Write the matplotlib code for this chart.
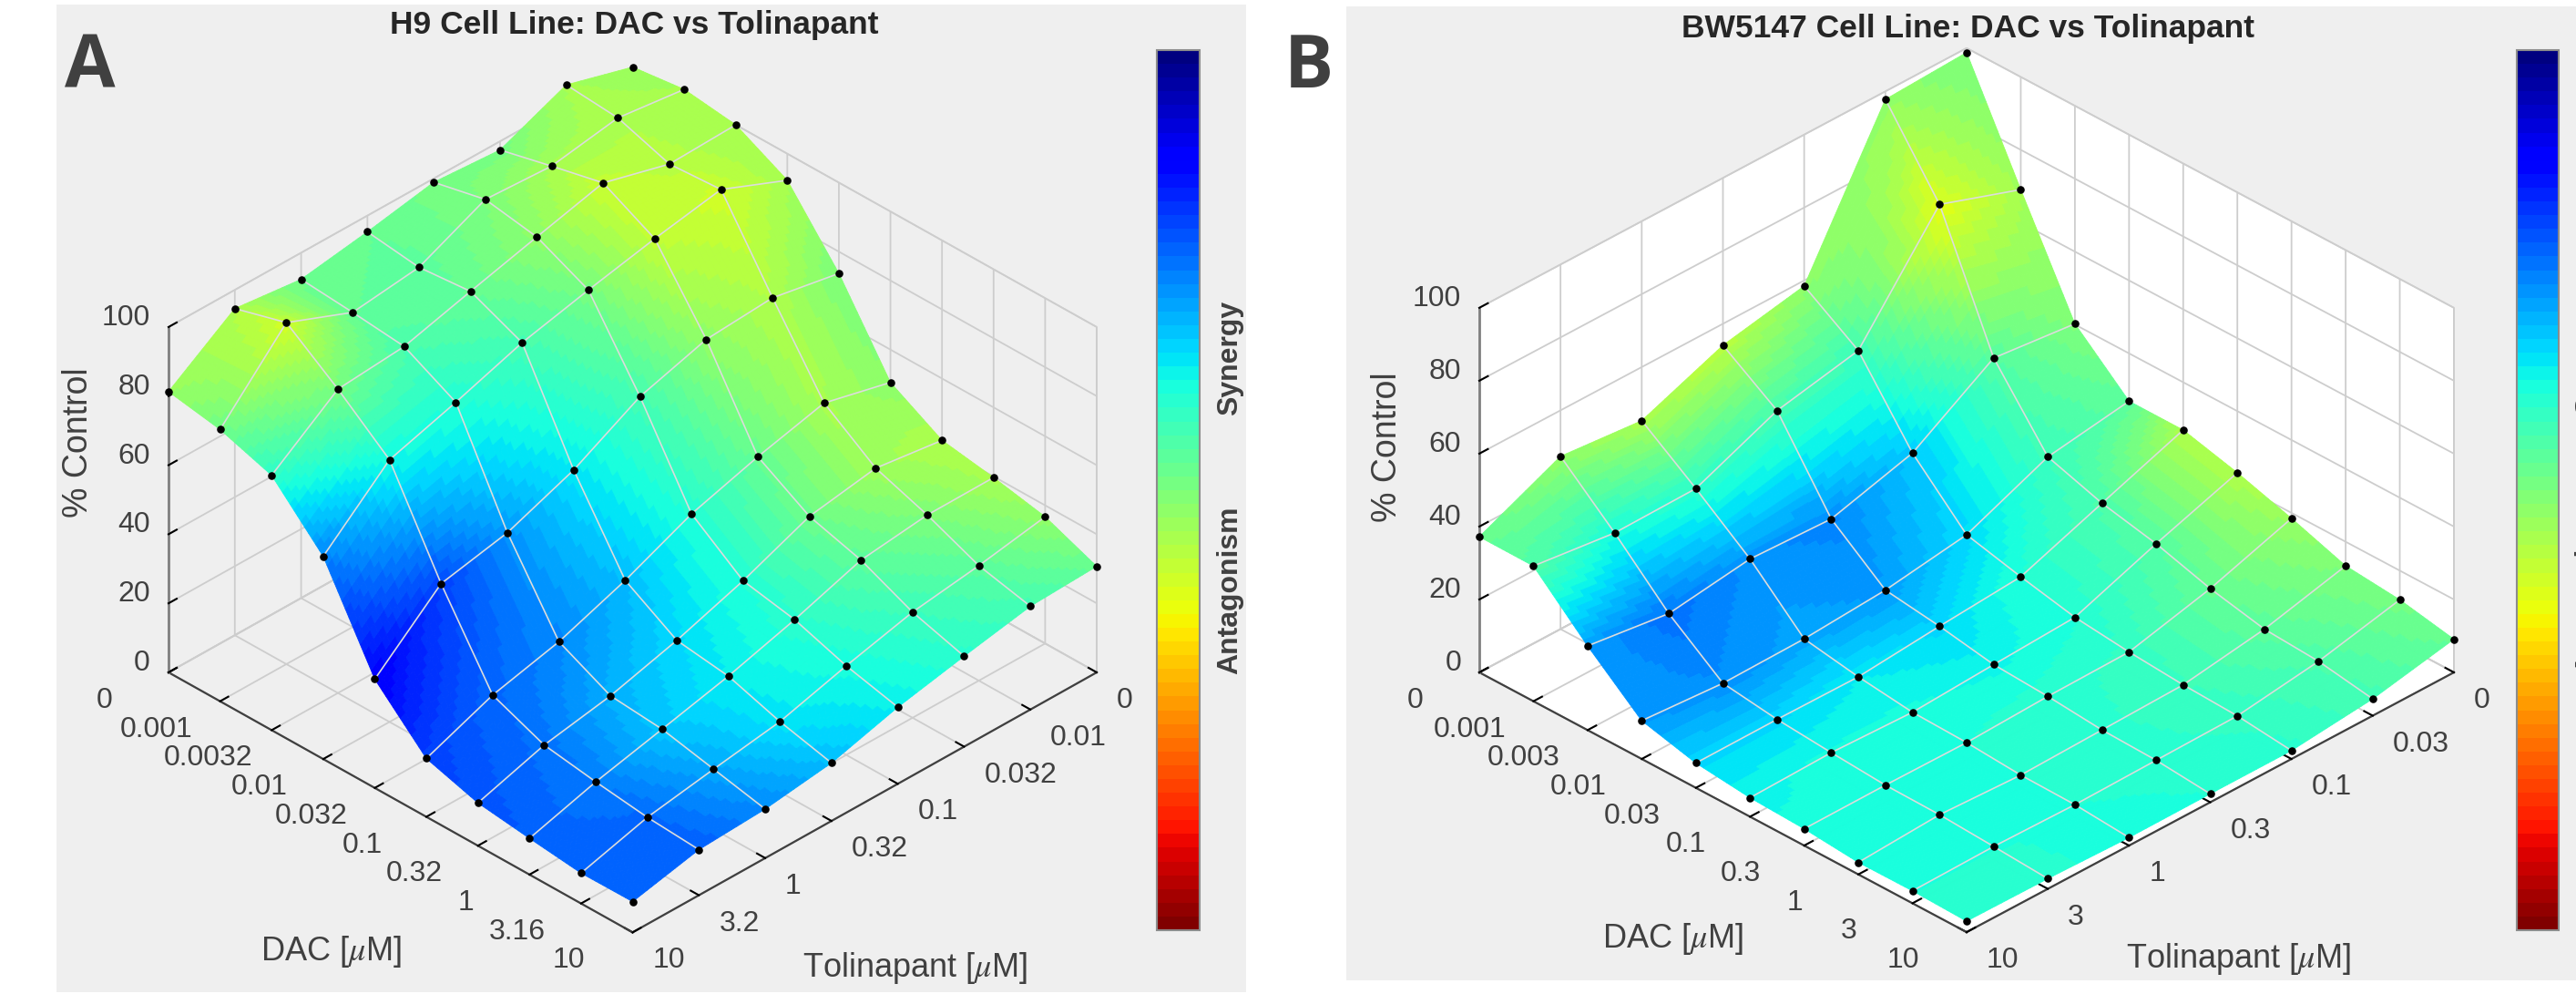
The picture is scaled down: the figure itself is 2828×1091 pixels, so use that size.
import numpy as np
import matplotlib
matplotlib.use("Agg")
import matplotlib.pyplot as plt
from matplotlib.cm import ScalarMappable
from matplotlib.colors import Normalize
from matplotlib.patches import Rectangle
from matplotlib.transforms import ScaledTranslation
from mpl_toolkits.mplot3d import proj3d

plt.rcParams['font.family'] = ['Liberation Sans', 'DejaVu Sans']
plt.rcParams['mathtext.fontset'] = 'stix'

# Tick labels
a_dac_labels = ['0', '0.001', '0.0032', '0.01', '0.032', '0.1', '0.32', '1', '3.16', '10']
a_tol_labels = ['0', '0.01', '0.032', '0.1', '0.32', '1', '3.2', '10']
b_dac_labels = ['0', '0.001', '0.003', '0.01', '0.03', '0.1', '0.3', '1', '3', '10']
b_tol_labels = ['0', '0.03', '0.1', '0.3', '1', '3', '10']
z_ticks = [0, 20, 40, 60, 80, 100]

# % control, one row per tolinapant level, one column per DAC level
a_z = [
    [100.0, 101.9, 100.0, 92.3, 73.7, 50.5, 42.1, 39.7, 36.7, 30.7],
    [105.6, 104.4, 99.4, 100.4, 77.4, 55.3, 44.8, 39.6, 33.3, 29.9],
    [97.5, 101.2, 104.7, 96.9, 76.1, 50.5, 41.6, 37.3, 30.6, 26.2],
    [98.9, 102.3, 99.8, 92.8, 70.3, 44.7, 33.7, 30.8, 25.8, 22.2],
    [95.3, 93.4, 94.8, 88.3, 59.8, 36.2, 27.2, 25.2, 20.4, 16.8],
    [92.3, 91.1, 89.6, 81.8, 52.4, 29.2, 21.9, 20.6, 17.4, 14.2],
    [94.6, 98.9, 88.0, 75.9, 48.4, 24.5, 18.4, 16.1, 14.2, 13.2],
    [81.3, 78.7, 73.8, 58.7, 31.5, 16.9, 12.4, 10.5, 8.8, 8.9],
]
b_z = [
    [98.8, 69.1, 40.2, 26.9, 26.9, 23.1, 18.5, 13.4, 12.0, 9.1],
    [97.8, 76.9, 42.7, 23.5, 18.7, 15.5, 11.1, 7.9, 7.0, 4.6],
    [58.5, 48.7, 28.5, 14.0, 10.4, 7.2, 5.6, 4.5, 3.9, 2.3],
    [54.1, 44.1, 22.3, 10.7, 8.7, 6.1, 5.3, 4.0, 3.6, 2.3],
    [45.3, 34.6, 23.2, 9.2, 6.7, 4.9, 4.5, 3.5, 3.3, 2.2],
    [47.4, 34.3, 20.1, 8.9, 6.9, 5.7, 4.7, 4.5, 3.7, 2.8],
    [37.2, 37.1, 23.1, 10.5, 6.8, 5.2, 4.6, 3.3, 3.4, 3.0],
]
# Interaction colour (0 = strongest synergy, 1 = strongest antagonism)
a_c = [
    [.53, .55, .55, .55, .50, .52, .56, .55, .52, .47],
    [.55, .56, .57, .60, .56, .55, .54, .50, .46, .43],
    [.49, .55, .59, .58, .52, .47, .48, .46, .42, .40],
    [.49, .50, .52, .49, .43, .39, .39, .40, .38, .36],
    [.47, .46, .47, .43, .35, .31, .34, .36, .35, .31],
    [.48, .47, .44, .39, .27, .26, .30, .32, .29, .26],
    [.56, .60, .49, .37, .19, .23, .24, .25, .23, .22],
    [.53, .48, .40, .25, .12, .19, .21, .22, .22, .22],
]
b_c = [
    [.50, .55, .50, .46, .56, .56, .53, .50, .49, .47],
    [.53, .62, .45, .42, .44, .45, .47, .46, .44, .43],
    [.52, .42, .32, .34, .39, .39, .41, .42, .41, .40],
    [.57, .43, .26, .28, .34, .37, .40, .40, .40, .39],
    [.55, .40, .27, .29, .36, .38, .39, .39, .39, .375],
    [.52, .38, .24, .27, .34, .38, .38, .38, .39, .40],
    [.47, .45, .28, .28, .34, .37, .38, .38, .39, .40],
]

W, H = 2828, 1091
fig = plt.figure(figsize=(W / 100, H / 100), dpi=100, facecolor='white')
GRAY = '#efefef'
DARK = '#404040'
cmap = plt.get_cmap('jet', 64)
norm = Normalize(0, 1)


def fx(px):
    return px / W


def fy(py):
    return 1 - py / H


def fig_rect(x0, y0, x1, y1):
    fig.patches.append(Rectangle((fx(x0), fy(y1)), (x1 - x0) / W, (y1 - y0) / H,
                                 transform=fig.transFigure, facecolor=GRAY,
                                 edgecolor='none', zorder=-5))


def refine(arr, n):
    """Fine mesh for smooth colour shading across each grid cell."""
    arr = np.asarray(arr, float)
    r, c = arr.shape
    ri = np.linspace(0, r - 1, (r - 1) * n + 1)
    ci = np.linspace(0, c - 1, (c - 1) * n + 1)
    r0 = np.minimum(ri.astype(int), r - 2)
    c0 = np.minimum(ci.astype(int), c - 2)
    fr = (ri - r0)[:, None]
    fc = (ci - c0)[None, :]
    return (arr[r0][:, c0] * (1 - fr) * (1 - fc) + arr[r0 + 1][:, c0] * fr * (1 - fc)
            + arr[r0][:, c0 + 1] * (1 - fr) * fc + arr[r0 + 1][:, c0 + 1] * fr * fc)


def place_ticklabels(ax, axis, dx, dy, ha, va):
    offset = ScaledTranslation(dx / 100, -dy / 100, fig.dpi_scale_trans)
    for tick in axis.get_major_ticks():
        lab = tick.label1
        lab.set_ha(ha)
        lab.set_va(va)
        lab.set_transform(ax.transData + offset)
        lab.set_transform = lambda tr: None


def panel(zvals, cvals, dac_labels, tol_labels, elev, zbox, left, right, pane,
          title, title_xy, dac_xy, tol_xy, zlab_xy, letter, letter_xy):
    z = np.array(zvals)
    c = np.array(cvals)
    nt, nd = z.shape
    ax = fig.add_axes([0.1, 0.1, 0.3, 0.3 * W / H], projection='3d',
                      computed_zorder=False)
    ax.patch.set_alpha(0)
    ax.set_proj_type('ortho')
    ax.view_init(elev=elev, azim=45)
    ax.set_box_aspect((1, 1, zbox), zoom=0.85)
    ax.set_xlim(0, nt - 1, view_margin=0)
    ax.set_ylim(0, nd - 1, view_margin=0)
    ax.set_zlim(0, 100, view_margin=0)

    # Scale and move the axes so the floor corners land where wanted
    def corners():
        ax.apply_aspect()
        M = ax.get_proj()
        pts = []
        for (xx, yy) in [(nt - 1, 0), (0, nd - 1)]:
            vx, vy, _ = proj3d.proj_transform(xx, yy, 0, M)
            pts.append(ax.transData.transform((vx, vy)))
        return np.array(pts)
    p = corners()
    side0 = 0.3 * W
    side = side0 * (right[0] - left[0]) / (p[1, 0] - p[0, 0])
    ax.set_position([0.1, 0.1, side / W, side / H])
    p = corners()
    dxp = left[0] - p[0, 0]
    dyp = (H - left[1]) - p[0, 1]
    ax.set_position([0.1 + dxp / W, 0.1 + dyp / H, side / W, side / H])

    # Surface
    Zf = refine(z, 14)
    Cf = refine(c, 14)
    Xf = np.linspace(0, nt - 1, Zf.shape[0])
    Yf = np.linspace(0, nd - 1, Zf.shape[1])
    Yg, Xg = np.meshgrid(Yf, Xf)
    ax.plot_surface(Xg, Yg, Zf, rstride=1, cstride=1, facecolors=cmap(norm(Cf)),
                    shade=False, linewidth=0.6, antialiased=True, zorder=1)
    # Interior mesh lines
    xs = np.arange(nt)
    ys = np.arange(nd)
    for j in range(1, nt - 1):
        ax.plot(np.full(nd, j), ys, z[j, :], color='#dcdcdc', lw=1.2, zorder=2)
    for i in range(1, nd - 1):
        ax.plot(xs, np.full(nt, i), z[:, i], color='#dcdcdc', lw=1.2, zorder=2)
    # Data points
    Yp, Xp = np.meshgrid(ys, xs)
    ax.scatter(Xp.ravel(), Yp.ravel(), z.ravel(), c='black', s=38, linewidths=0,
               depthshade=False, zorder=3)

    # Axes styling
    ax.set_xticks(xs)
    ax.set_yticks(ys)
    ax.set_zticks(z_ticks)
    ax.set_xticklabels(tol_labels)
    ax.set_yticklabels(dac_labels)
    ax.tick_params(axis='both', labelsize=23, labelcolor=DARK, pad=-8)
    for axis in (ax.xaxis, ax.yaxis, ax.zaxis):
        axis.set_pane_color(pane)
        axis.pane.set_edgecolor('#cfcfcf')
        axis.pane.set_linewidth(1.2)
        axis._axinfo['grid'].update(color='#cdcdcd', linewidth=1.3, linestyle='-')
        axis._axinfo['tick'].update(inward_factor=0.0, outward_factor=0.22)
        axis._axinfo['tick']['linewidth'] = {True: 1.5, False: 1.0}
        axis._axinfo['tick']['color'] = DARK
        axis.line.set_color(DARK)
        axis.line.set_linewidth(1.6)
    ax.zaxis.line.set_color('#808080')
    ax.zaxis.line.set_linewidth(2.0)
    place_ticklabels(ax, ax.xaxis, 22, 31, 'left', 'center')
    place_ticklabels(ax, ax.yaxis, -70, 31, 'center', 'center')
    place_ticklabels(ax, ax.zaxis, -20, -10, 'right', 'center')

    # Panel texts
    fig.text(fx(title_xy[0]), fy(title_xy[1]), title, fontsize=25.5, fontweight='bold',
             color='#262626', ha='center', va='center')
    fig.text(fx(dac_xy[0]), fy(dac_xy[1]), r'DAC [$\mu$M]', fontsize=26, color=DARK,
             ha='center', va='center')
    fig.text(fx(tol_xy[0]), fy(tol_xy[1]), r'Tolinapant [$\mu$M]', fontsize=26,
             color=DARK, ha='center', va='center')
    fig.text(fx(zlab_xy[0]), fy(zlab_xy[1]), '% Control', fontsize=27, color=DARK,
             rotation=90, ha='center', va='center')
    fig.text(fx(letter_xy[0]), fy(letter_xy[1]), letter, fontsize=58, fontweight='bold',
             family='Open Sans', color=DARK, ha='center', va='center')
    return ax


def colorbar(x0, x1, y0, y1, syn_x):
    cax = fig.add_axes([fx(x0), fy(y1), (x1 - x0) / W, (y1 - y0) / H])
    cb = fig.colorbar(ScalarMappable(norm=norm, cmap=cmap), cax=cax, ticks=[])
    cax.invert_yaxis()
    cb.outline.set_edgecolor('#8c8c8c')
    cb.outline.set_linewidth(1.5)
    fig.text(fx(syn_x), fy(393), 'Synergy', fontsize=23, fontweight='bold', color=DARK,
             rotation=90, ha='center', va='center')
    fig.text(fx(syn_x), fy(648), 'Antagonism', fontsize=23, fontweight='bold', color=DARK,
             rotation=90, ha='center', va='center')


fig_rect(62, 5, 1368, 1089)
fig_rect(1478, 7, 2828, 1076)

panel(a_z, a_c, a_dac_labels, a_tol_labels, 34.06, 0.635, (185, 738), (1204, 738),
      GRAY, 'H9 Cell Line: DAC vs Tolinapant', (696, 28), (363, 1044), (1005, 1063),
      (86, 486), 'A', (99, 75))
panel(b_z, b_c, b_dac_labels, b_tol_labels, 32.2, 0.625, (1624, 738), (2694, 738),
      'white', 'BW5147 Cell Line: DAC vs Tolinapant', (2160, 31), (1836, 1031), (2458, 1053),
      (1523, 491), 'B', (1437, 75))
colorbar(1270, 1317, 55, 1021, 1350)
colorbar(2763, 2809, 55, 1021, 2841)

fig.savefig('out.png', dpi=100, facecolor='white')
